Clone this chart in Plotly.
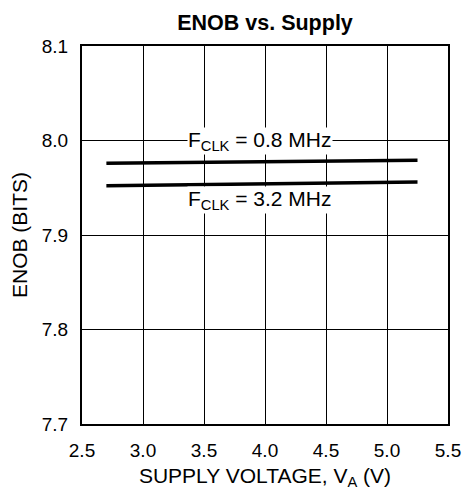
import plotly.graph_objects as go

supply_v = [2.7, 5.25]
enob_08mhz = [7.976, 7.979]
enob_32mhz = [7.952, 7.956]

FONT = "Liberation Sans, Arial, sans-serif"

fig = go.Figure()
fig.add_trace(go.Scatter(x=supply_v, y=enob_08mhz, mode="lines",
                         line=dict(color="black", width=3.5), showlegend=False))
fig.add_trace(go.Scatter(x=supply_v, y=enob_32mhz, mode="lines",
                         line=dict(color="black", width=3.5), showlegend=False))

fig.add_annotation(x=3.96, y=8.0, text="F<sub>CLK</sub> = 0.8 MHz", showarrow=False,
                   bgcolor="white", borderpad=0, font=dict(size=21, color="black", family=FONT))
fig.add_annotation(x=3.96, y=7.937, text="F<sub>CLK</sub> = 3.2 MHz", showarrow=False,
                   bgcolor="white", borderpad=0, font=dict(size=21, color="black", family=FONT))

axis_common = dict(showgrid=True, gridcolor="black", gridwidth=1, showline=True,
                   linecolor="black", linewidth=2, mirror=True, ticks="", zeroline=False,
                   ticklabelstandoff=8, automargin=False,
                   tickfont=dict(size=19, color="black", family=FONT))

fig.update_xaxes(range=[2.5, 5.5], dtick=0.5, tickformat=".1f",
                 title=dict(text="SUPPLY VOLTAGE, V<sub>A</sub> (V)", standoff=14,
                            font=dict(size=21, color="black", family=FONT)),
                 **axis_common)
fig.update_yaxes(range=[7.7, 8.1], dtick=0.1, tickformat=".1f",
                 title=dict(text="ENOB (BITS)", standoff=8,
                            font=dict(size=21, color="black", family=FONT)),
                 **axis_common)

fig.update_layout(
    width=466, height=490,
    margin=dict(l=82, r=18, t=46, b=66),
    paper_bgcolor="white", plot_bgcolor="white",
    title=dict(text="<b>ENOB vs. Supply</b>", x=(82 + 448) / 2 / 466, xanchor="center",
               y=1 - 22 / 490, yanchor="middle",
               font=dict(size=21.5, color="black", family=FONT)),
)

# drop the default body margin so the figure sits at the window's top-left corner
fig.write_html("out.html", config={"displayModeBar": False},
               post_script="document.body.style.margin = '0';")
